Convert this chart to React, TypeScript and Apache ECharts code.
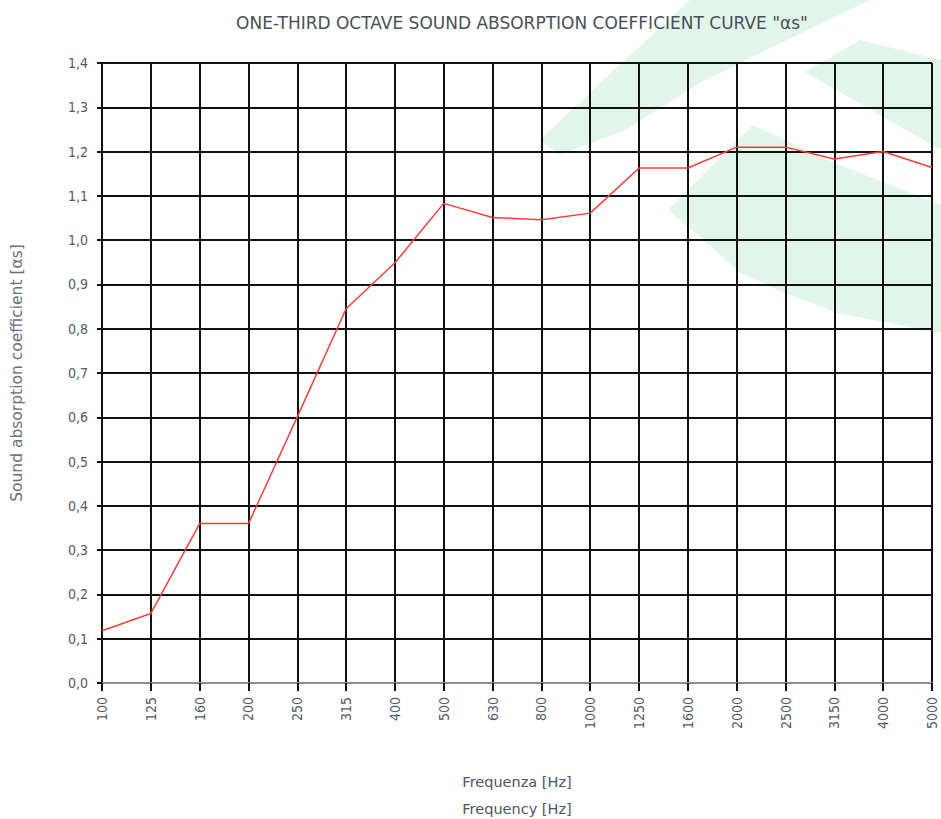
import React, { useEffect, useRef } from "react";
import * as echarts from "echarts";

const frequencies = ["100", "125", "160", "200", "250", "315", "400", "500", "630", "800", "1000", "1250", "1600", "2000", "2500", "3150", "4000", "5000"];
const absorption = [0.118, 0.157, 0.36, 0.36, 0.601, 0.845, 0.949, 1.083, 1.051, 1.046, 1.061, 1.163, 1.163, 1.21, 1.21, 1.183, 1.2, 1.164];
const titleText = "ONE-THIRD OCTAVE SOUND ABSORPTION COEFFICIENT CURVE \"\u03b1s\"";
const yName = "Sound absorption coefficient [\u03b1s]";
const xName = "Frequenza [Hz]\nFrequency [Hz]";

const green = "#e2f5ea";
const shapeA = [[690, 0], [870, 0], [705, 80], [625, 130], [560, 155], [540, 140], [598, 85]];
const shapeB = [[805, 72], [860, 40], [941, 60], [941, 150]];
const shapeC = [[668, 210], [753, 125], [840, 165], [941, 205], [941, 333], [837, 313], [785, 293], [740, 273], [707, 243]];

export default function App() {
  const ref = useRef<HTMLDivElement>(null);
  useEffect(() => {
    if (!ref.current) return;
    const chart = echarts.init(ref.current, null, { renderer: "svg" });
    const cond = "'DejaVu Sans Condensed', 'Liberation Sans Narrow', sans-serif";
    const wide = "'DejaVu Sans', 'Liberation Sans', sans-serif";
    chart.setOption({
      animation: false,
      backgroundColor: "#ffffff",
      title: {
        text: titleText,
        left: 517,
        textAlign: "center",
        top: 9,
        textStyle: { fontFamily: wide, fontSize: 17, fontWeight: "normal", color: "#4a4f57" },
      },
      graphic: [shapeA, shapeB, shapeC].map((pts) => ({
        type: "polygon",
        z: -10,
        silent: true,
        shape: { points: pts },
        style: { fill: green },
      })),
      grid: { left: 102, right: 9, top: 63, bottom: 136, containLabel: false, outerBoundsMode: "none" },
      xAxis: {
        type: "category",
        data: frequencies,
        boundaryGap: false,
        name: xName,
        nameLocation: "middle",
        nameGap: 85,
        nameTextStyle: { fontFamily: wide, fontSize: 14.5, color: "#4f5660", lineHeight: 27 },
        axisLine: { show: true, lineStyle: { color: "#8c8c8c", width: 2 } },
        axisTick: { show: true, length: 8, lineStyle: { color: "#111", width: 2 } },
        axisLabel: {
          rotate: 90,
          margin: 14,
          fontFamily: cond,
          fontSize: 14,
          color: "#505a66",
        },
        splitLine: { show: true, lineStyle: { color: "#111", width: 2 } },
      },
      yAxis: {
        type: "value",
        min: 0,
        max: 1.4,
        interval: 0.1,
        name: yName,
        nameLocation: "middle",
        nameGap: 77,
        nameTextStyle: { fontFamily: wide, fontSize: 15.5, color: "#6a7079" },
        axisLine: { show: true, lineStyle: { color: "#111", width: 2 } },
        axisTick: { show: true, length: 5, lineStyle: { color: "#111", width: 2 } },
        axisLabel: {
          margin: 14,
          fontFamily: cond,
          fontSize: 14,
          color: "#505a66",
          formatter: (v: number) => v.toFixed(1).replace(".", ","),
        },
        splitLine: { show: true, showMinLine: false, lineStyle: { color: "#111", width: 2 } },
      },
      series: [
        {
          type: "line",
          data: absorption,
          symbol: "none",
          lineStyle: { color: "#ff3b3b", width: 1.5 },
          z: 5,
        },
      ],
    });
    return () => chart.dispose();
  }, []);
  return <div ref={ref} style={{ position: "fixed", left: 0, top: 0, width: 941, height: 819 }} />;
}
